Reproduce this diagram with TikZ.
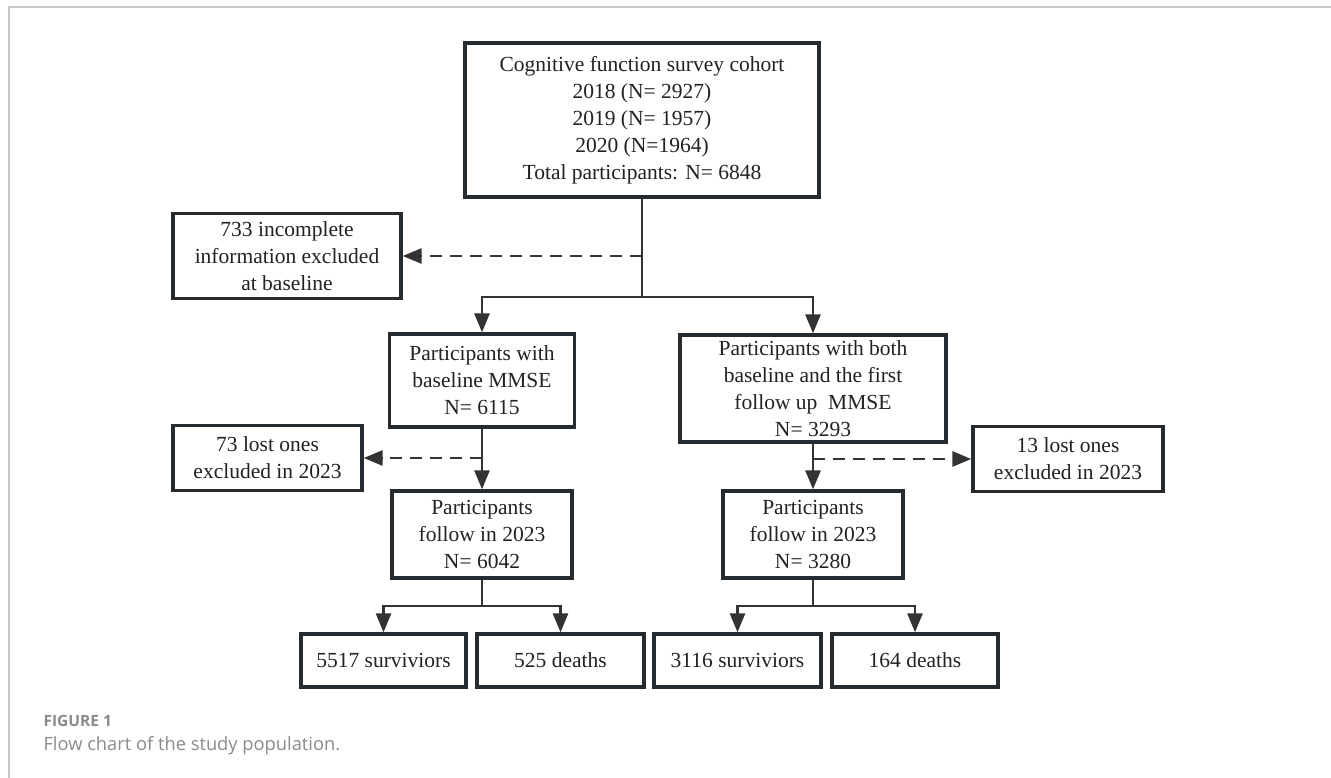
\documentclass[tikz,border=0pt]{standalone}
\usepackage{fontspec}
\setmainfont{Liberation Serif}
\newfontfamily\capfont{Open Sans}
\usepackage{xcolor}
\usetikzlibrary{positioning, arrows.meta}

\definecolor{boxline}{HTML}{262B30}
\definecolor{linkcol}{HTML}{333333}
\definecolor{textcol}{HTML}{222222}
\definecolor{capgray}{HTML}{8A8A8A}
\definecolor{framegray}{HTML}{C8C8C8}

\begin{document}
\begin{tikzpicture}[
    x=1pt, y=-1pt,
    >={Triangle[length=19pt, width=15pt]},
    % Boxes
    flowbox/.style={
        rectangle, draw=boxline, line width=3.3pt, fill=white,
        text=textcol, align=center, inner sep=0pt,
        font=\fontsize{21.5}{27}\selectfont
    },
    % Connectors
    link/.style={draw=linkcol, line width=2.8pt},
    arrowlink/.style={link, ->, linkcol},
    droplink/.style={link, ->, linkcol, dash pattern=on 12pt off 8pt},
    % Caption
    cap_head/.style={anchor=west, text=capgray, font=\capfont\bfseries\fontsize{15.5}{18}\selectfont},
    cap_text/.style={anchor=west, text=capgray, font=\capfont\fontsize{18.3}{22}\selectfont}
]

    % --- PAGE AND FRAME ---
    \useasboundingbox (0,0) rectangle (1331,778);
    \draw[framegray, line width=1.5pt] (9,778) -- (9,7) -- (1331,7);

    % --- TOP ---
    \node[flowbox, minimum width=354pt, minimum height=154pt] (cohort) at (642,120)
        {Cognitive function survey cohort\\2018 (N= 2927)\\2019 (N= 1957)\\2020 (N=1964)\\Total participants: N= 6848};
    \node[flowbox, minimum width=228pt, minimum height=85pt] (excl-base) at (287,256)
        {733 incomplete\\information excluded\\at baseline};

    % --- SECOND LEVEL ---
    \node[flowbox, minimum width=185pt, minimum height=93pt] (base) at (482,380.5)
        {Participants with\\baseline MMSE\\N= 6115};
    \node[flowbox, minimum width=266pt, minimum height=107pt] (both) at (813,388.5)
        {Participants with both\\baseline and the first\\follow up\ \ MMSE\\N= 3293};

    % --- LOST TO FOLLOW UP ---
    \node[flowbox, minimum width=189pt, minimum height=65pt] (lost-1) at (267.5,458)
        {73 lost ones\\excluded in 2023};
    \node[flowbox, minimum width=190pt, minimum height=65pt] (lost-2) at (1068,459)
        {13 lost ones\\excluded in 2023};

    % --- FOLLOW UP 2023 ---
    \node[flowbox, minimum width=180pt, minimum height=87pt] (follow-1) at (482,534.5)
        {Participants\\follow in 2023\\N= 6042};
    \node[flowbox, minimum width=180pt, minimum height=87pt] (follow-2) at (813,534.5)
        {Participants\\follow in 2023\\N= 3280};

    % --- OUTCOMES ---
    \node[flowbox, minimum width=165pt, minimum height=53pt] (surv-1) at (383.5,660.5) {5517 surviviors};
    \node[flowbox, minimum width=167pt, minimum height=53pt] (death-1) at (560.5,660.5) {525 deaths};
    \node[flowbox, minimum width=167pt, minimum height=53pt] (surv-2) at (737.5,660.5) {3116 surviviors};
    \node[flowbox, minimum width=166pt, minimum height=53pt] (death-2) at (915,660.5) {164 deaths};

    % --- CONNECTIONS ---
    \coordinate (fork-0) at (642,297);
    \coordinate (fork-1) at (482,606);
    \coordinate (fork-2) at (813,606);

    \draw[link] (cohort.south) -- (fork-0);
    \draw[arrowlink] (fork-0) -| (base.north);
    \draw[arrowlink] (fork-0) -| (both.north);
    \draw[droplink] (cohort.south |- excl-base.east) -- (excl-base.east);

    \draw[arrowlink] (base.south) -- (follow-1.north);
    \draw[droplink] (base.south |- lost-1.east) -- (lost-1.east);
    \draw[arrowlink] (both.south) -- (follow-2.north);
    \draw[droplink] (both.south |- lost-2.west) -- (lost-2.west);

    \draw[link] (follow-1.south) -- (fork-1);
    \draw[link] (follow-2.south) -- (fork-2);
    \foreach \src/\dst in {fork-1/surv-1, fork-1/death-1, fork-2/surv-2, fork-2/death-2} {
        \draw[arrowlink] (\src) -| (\dst.north);
    }

    % --- CAPTION ---
    \node[cap_head] (fig-label) at (40,721) {FIGURE 1};
    \node[cap_text] (fig-caption) at (40,746) {Flow chart of the study population.};

\end{tikzpicture}
\end{document}
